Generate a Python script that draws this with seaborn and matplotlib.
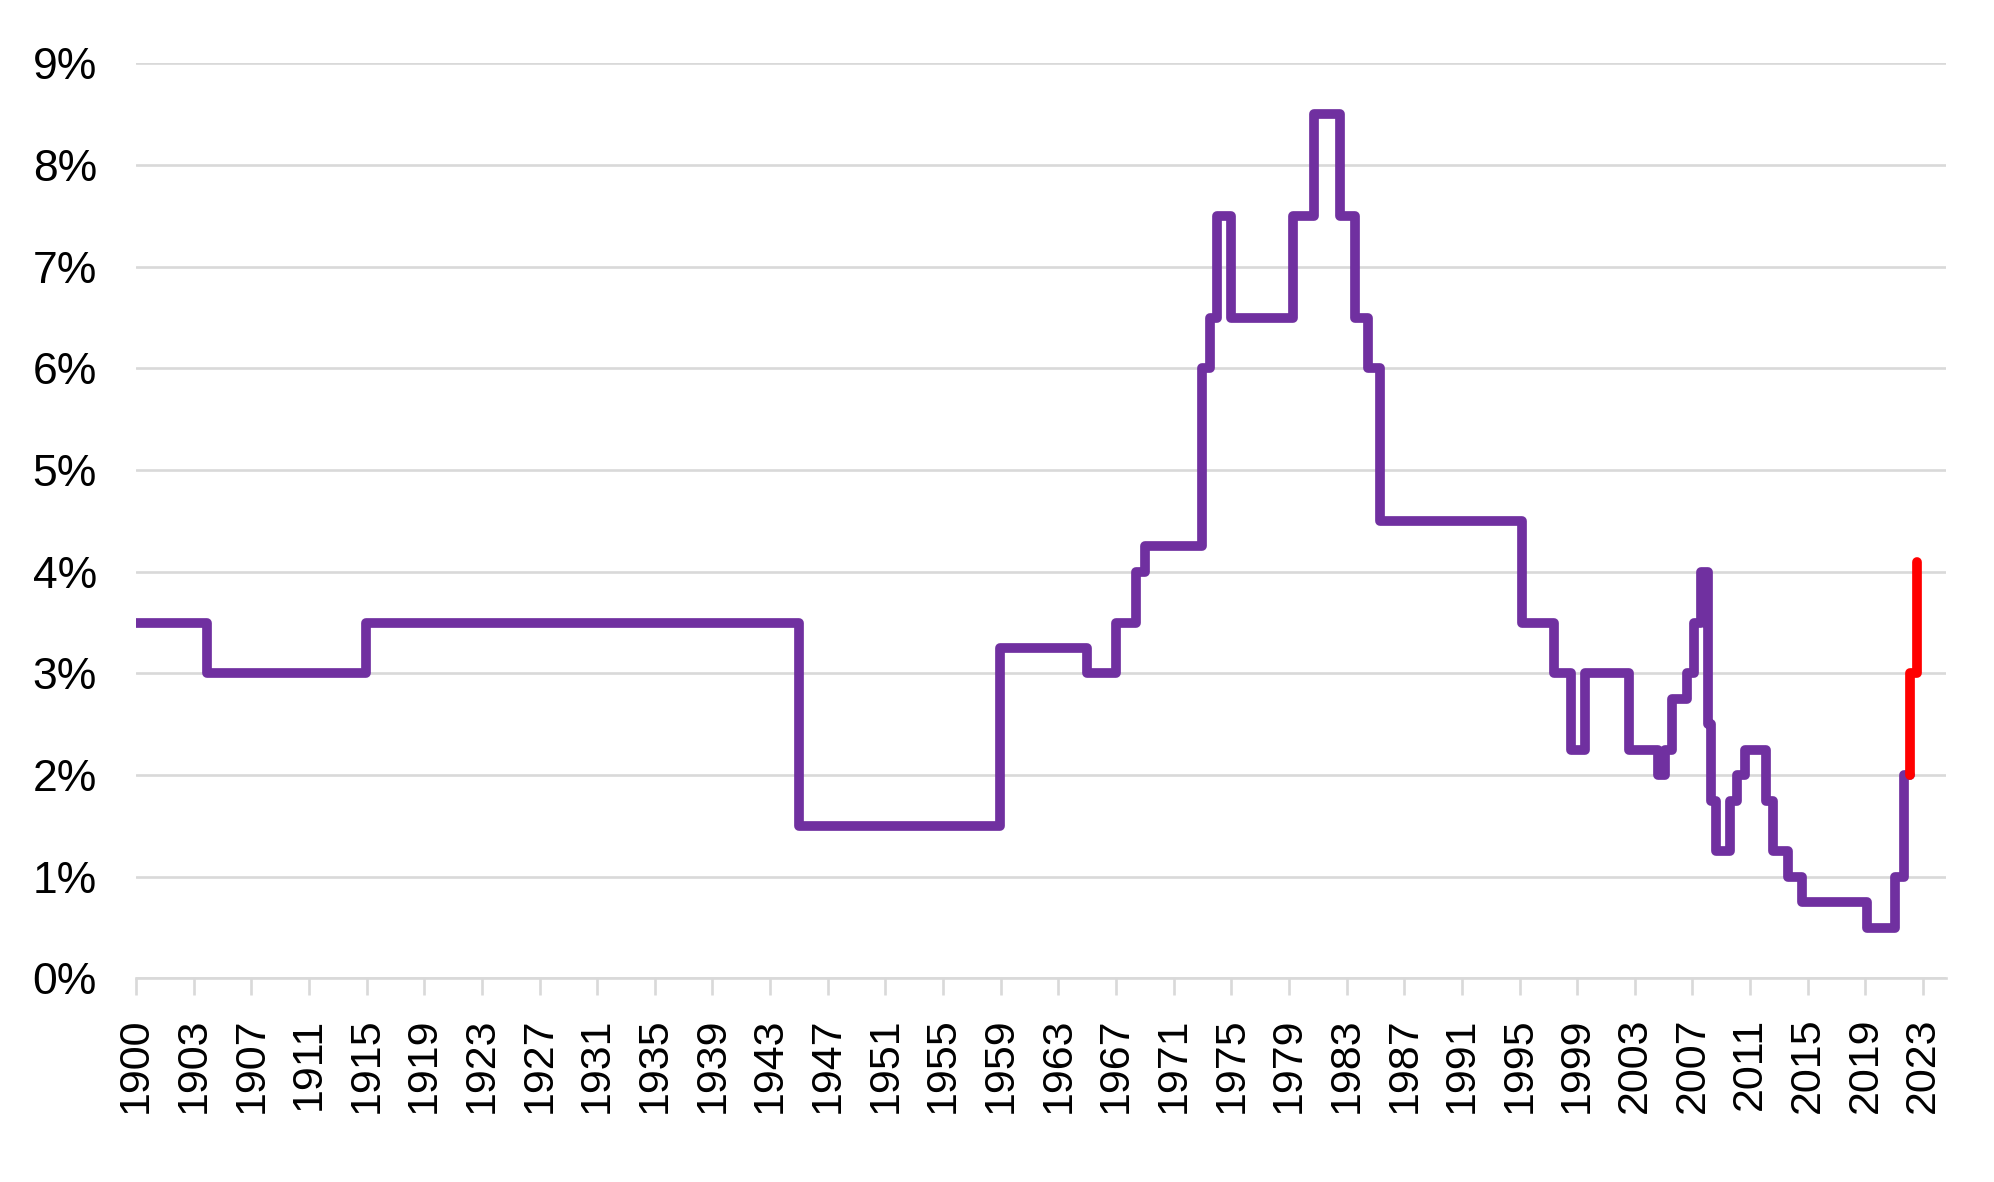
import matplotlib
matplotlib.use("Agg")
import matplotlib.pyplot as plt
import seaborn as sns
import pandas as pd
import numpy as np

# ---- data: step-change dates (decimal years) and rate levels (%) ----
change_dates = [1900.0, 1904.96, 1915.97, 1946.0, 1959.97, 1966.02, 1967.99, 1969.4,
                1970.03, 1973.96, 1974.49, 1975.0, 1975.97, 1980.25, 1981.76, 1983.51,
                1984.6, 1985.46, 1986.34, 1996.17, 1998.41, 1999.57, 2000.54, 2003.6,
                2005.58, 2006.1, 2006.58, 2007.6, 2008.08, 2008.62, 2009.05, 2009.25,
                2009.6, 2010.62, 2011.12, 2011.65, 2013.1, 2013.59, 2014.6, 2015.6,
                2020.11, 2022.06, 2022.65]
rates = [3.5, 3.0, 3.5, 1.5, 3.25, 3.0, 3.5, 4.0,
         4.25, 6.0, 6.5, 7.5, 6.5, 7.5, 8.5, 7.5,
         6.5, 6.0, 4.5, 3.5, 3.0, 2.25, 3.0, 2.25,
         2.0, 2.25, 2.75, 3.0, 3.5, 4.0, 2.5, 1.75,
         1.25, 1.75, 2.0, 2.25, 1.75, 1.25, 1.0, 0.75,
         0.5, 1.0, 2.0]
series_end = 2023.11

forecast_dates = [2023.11, 2023.58]
forecast_rates = [3.0, 4.1]

tick_labels = ["1900", "1903", "1907", "1911", "1915", "1919", "1923", "1927", "1931",
               "1935", "1939", "1943", "1947", "1951", "1955", "1959", "1963", "1967",
               "1971", "1975", "1979", "1983", "1987", "1991", "1995", "1999", "2003",
               "2007", "2011", "2015", "2019", "2023"]
y_ticks = [0, 1, 2, 3, 4, 5, 6, 7, 8, 9]

PURPLE = "#7030A0"
RED = "#FF0000"
GRID = "#D9D9D9"

sns.set_theme(style="white")
plt.rcParams["font.family"] = ["Liberation Sans", "DejaVu Sans"]

hist = pd.DataFrame({"date": change_dates + [series_end],
                     "rate": rates + [rates[-1]]})
fc = pd.DataFrame({"date": [series_end] + forecast_dates,
                   "rate": [rates[-1]] + forecast_rates})

fig = plt.figure(figsize=(19.94, 11.82), dpi=100)
ax = fig.add_axes([0.0682, 0.1722, 0.976 - 0.0682, 0.9464 - 0.1722])

line_kw = dict(drawstyle="steps-post", linewidth=7.0, solid_joinstyle="round",
               solid_capstyle="round", estimator=None, sort=False, legend=False)
sns.lineplot(data=hist, x="date", y="rate", color=PURPLE, ax=ax, zorder=3, **line_kw)
sns.lineplot(data=fc, x="date", y="rate", color=RED, ax=ax, zorder=4, **line_kw)

ax.set_xlim(1900, 2025.6)
ax.set_ylim(0, 9)

tick_pos = [1900 + 4 * i for i in range(len(tick_labels))]
ax.set_xticks(tick_pos)
ax.set_xticklabels(tick_labels, rotation=90, fontsize=31)
ax.set_yticks(y_ticks)
ax.set_yticklabels([f"{v}%" for v in y_ticks], fontsize=32)

ax.grid(axis="y", color=GRID, linewidth=1.9, zorder=0)
ax.grid(axis="x", visible=False)
for s in ["top", "right", "left"]:
    ax.spines[s].set_visible(False)
ax.spines["bottom"].set_color(GRID)
ax.spines["bottom"].set_linewidth(1.9)
ax.spines["bottom"].set_zorder(1)

ax.tick_params(axis="x", which="major", direction="out", length=12, width=1.9,
               color=GRID, pad=16, labelcolor="black", bottom=True)
ax.tick_params(axis="y", length=0, pad=28, labelcolor="black")
ax.set_xlabel("")
ax.set_ylabel("")

fig.savefig("out.png", dpi=100, facecolor="white")
